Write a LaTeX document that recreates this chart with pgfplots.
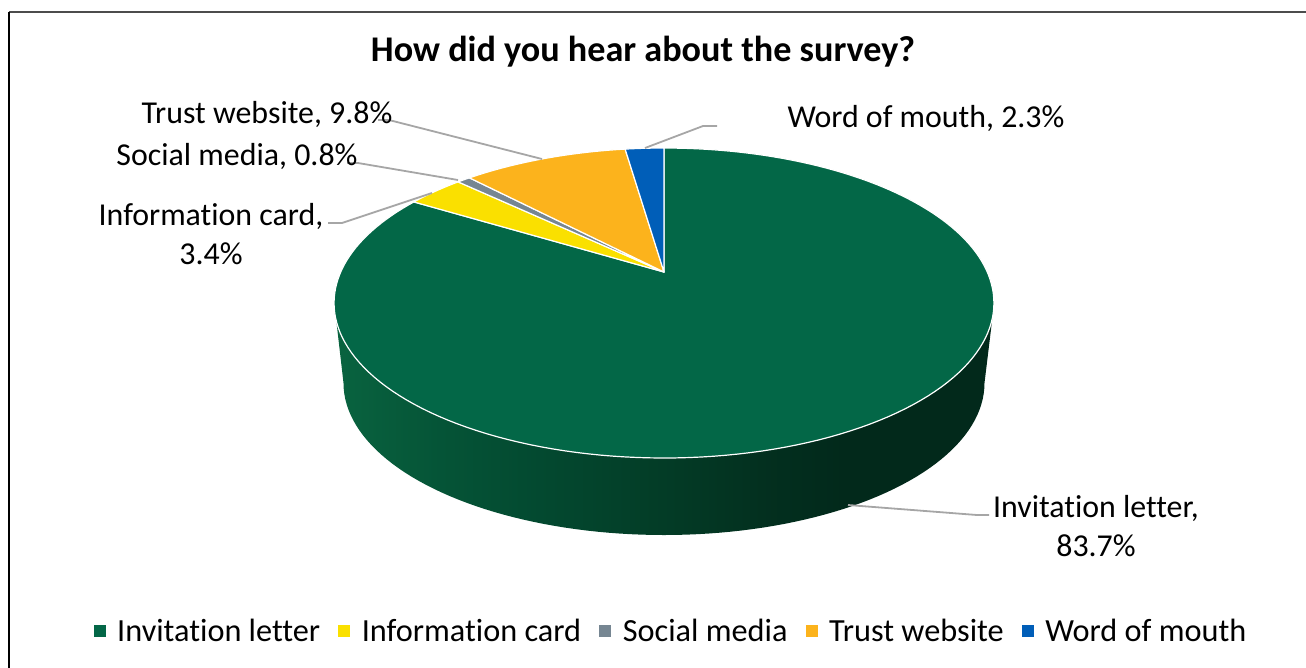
\documentclass[border=0pt]{standalone}
\usepackage{pgfplots}
\pgfplotsset{compat=1.18}
\usepackage{fontspec}
\setmainfont[Ligatures={NoCommon}]{Carlito}

\definecolor{invitecol}{HTML}{036747}
\definecolor{cardcol}{HTML}{FAE000}
\definecolor{socialcol}{HTML}{768692}
\definecolor{trustcol}{HTML}{FCB31C}
\definecolor{mouthcol}{HTML}{005EB8}
\definecolor{leader}{HTML}{A6A6A6}

% side wall of the disc, lit from the left
\pgfdeclarehorizontalshading{wallshade}{100bp}{
  rgb(0bp)=(0.035,0.39,0.25);
  rgb(25bp)=(0.035,0.39,0.25);
  rgb(33bp)=(0.02,0.33,0.215);
  rgb(40bp)=(0.012,0.29,0.19);
  rgb(50bp)=(0.012,0.235,0.15);
  rgb(58bp)=(0.01,0.185,0.12);
  rgb(64bp)=(0.008,0.16,0.105);
  rgb(75bp)=(0.008,0.16,0.105);
  rgb(100bp)=(0.008,0.16,0.105)}

% perspective view of the pie's unit circle; #1 is degrees clockwise from 12 o'clock
\newcommand{\rimpoint}[1]{%
  \pgfmathsetmacro\rimDen{1+0.2*cos(#1)}%
  \pgfmathsetmacro\rimX{664+323.3*sin(#1)/\rimDen}%
  \pgfmathsetmacro\rimY{272-148.8*cos(#1)/\rimDen}}

\gdef\cumshare{0}
% #1 colour, #2 share in percent, #3 legend text
\newcommand{\drawslice}[3]{%
  \pgfmathsetmacro\sliceEnd{\cumshare+#2}%
  \pgfmathtruncatemacro\sliceSteps{ceil(#2*2)+1}%
  \gdef\slicepath{(664,272)}%
  \foreach \k in {0,...,\sliceSteps}{%
    \pgfmathsetmacro\sliceAngle{3.6*(\cumshare+#2*\k/\sliceSteps)}%
    \rimpoint{\sliceAngle}%
    \xdef\slicepath{\slicepath (\rimX,\rimY)}}%
  \edef\doslice{\noexpand\addplot[fill=#1,draw=white,line width=1.2bp,line join=round]
    coordinates {\slicepath} -- cycle;}%
  \doslice
  \addlegendentry{#3}%
  \xdef\cumshare{\sliceEnd}}

\begin{document}
\begin{tikzpicture}
\useasboundingbox (0,0) rectangle (1306bp,668bp);
\begin{axis}[
  at={(0,0)},anchor=south west,
  scale only axis,width=1306bp,height=668bp,
  xmin=0,xmax=1306,ymin=0,ymax=668,y dir=reverse,
  hide axis,clip=false,
  legend columns=5,
  legend style={at={(0.5138,0.0768)},anchor=north,draw=none,fill=none,
    font=\fontsize{32.4}{35}\selectfont,inner sep=0pt,outer sep=0pt,
    /tikz/every even column/.append style={column sep=16bp}},
  legend cell align=left,
  legend image code/.code={\fill[#1,draw=none] (0bp,-6bp) rectangle (12bp,6bp);\path (21bp,0);},
]
% frame of the chart area
\addplot[forget plot,draw=black!70,line width=1.8bp] coordinates {(9,12) (1306,12)};
\addplot[forget plot,draw=black,line width=1.5bp] coordinates {(9,12) (9,668)};

% side wall: front of the top rim, then back along the lower rim
\gdef\wallpath{}
\foreach \k in {0,...,76}{%
  \pgfmathsetmacro\wallAngle{107+2*\k}%
  \rimpoint{\wallAngle}%
  \xdef\wallpath{\wallpath (\rimX,\rimY)}}
\foreach \k in {0,...,90}{%
  \pgfmathsetmacro\wallX{664+320.5*cos(180-2*\k)}%
  \pgfmathsetmacro\wallY{383+152*sin(180-2*\k)}%
  \xdef\wallpath{\wallpath (\wallX,\wallY)}}
\edef\dowall{\noexpand\addplot[forget plot,draw=none,shading=wallshade] coordinates {\wallpath} -- cycle;}
\dowall

% slices of the pie, clockwise from 12 o'clock
\drawslice{invitecol}{83.7}{Invitation letter}
\drawslice{cardcol}{3.4}{Information card}
\drawslice{socialcol}{0.8}{Social media}
\drawslice{trustcol}{9.8}{Trust website}
\drawslice{mouthcol}{2.3}{Word of mouth}

% leader lines
\addplot[forget plot,leader,line width=1.8bp] coordinates {(645,148) (703,126) (717,126)};
\addplot[forget plot,leader,line width=1.8bp] coordinates {(542,159) (389,120) (378,120)};
\addplot[forget plot,leader,line width=1.8bp] coordinates {(458,180) (358,163) (347,163)};
\addplot[forget plot,leader,line width=1.8bp] coordinates {(432,193) (342,223) (328,223)};
\addplot[forget plot,leader,line width=1.8bp] coordinates {(848,505) (977,515) (989,515)};

% title and data labels
\node[font=\fontsize{36.3}{40}\selectfont\bfseries] at (axis cs:643,52) {How did you hear about the survey?};
\node[font=\fontsize{32}{34}\selectfont] at (axis cs:267,114) {Trust website, 9.8\%};
\node[font=\fontsize{32}{34}\selectfont] at (axis cs:926,118) {Word of mouth, 2.3\%};
\node[font=\fontsize{32}{34}\selectfont] at (axis cs:237,156) {Social media, 0.8\%};
\node[font=\fontsize{32}{34}\selectfont] at (axis cs:211,216) {Information card,};
\node[font=\fontsize{32}{34}\selectfont] at (axis cs:211,254) {3.4\%};
\node[font=\fontsize{32}{34}\selectfont] at (axis cs:1096,508) {Invitation letter,};
\node[font=\fontsize{32}{34}\selectfont] at (axis cs:1096,546) {83.7\%};
\end{axis}
\end{tikzpicture}
\end{document}
